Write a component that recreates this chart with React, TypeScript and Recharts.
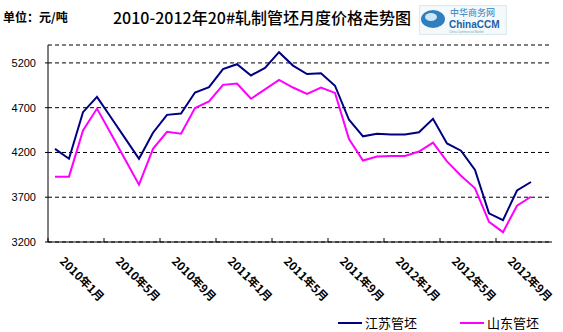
import { CartesianGrid, Line, LineChart, XAxis, YAxis } from "recharts"

const months = [
  "2010年1月", "2010年2月", "2010年3月", "2010年4月", "2010年5月", "2010年6月",
  "2010年7月", "2010年8月", "2010年9月", "2010年10月", "2010年11月", "2010年12月",
  "2011年1月", "2011年2月", "2011年3月", "2011年4月", "2011年5月", "2011年6月",
  "2011年7月", "2011年8月", "2011年9月", "2011年10月", "2011年11月", "2011年12月",
  "2012年1月", "2012年2月", "2012年3月", "2012年4月", "2012年5月", "2012年6月",
  "2012年7月", "2012年8月", "2012年9月", "2012年10月", "2012年11月", "2012年12月",
]

// 江苏管坯
const jiangsu = [
  4240, 4130, 4650, 4820, 4590, 4360, 4130, 4420, 4620, 4635, 4870, 4930,
  5130, 5185, 5060, 5145, 5320, 5170, 5075, 5085, 4945, 4565, 4380, 4410,
  4400, 4400, 4425, 4575, 4300, 4220, 4005, 3520, 3445, 3775, 3870,
]

// 山东管坯
const shandong = [
  3930, 3930, 4445, 4690, 4410, 4125, 3840, 4240, 4430, 4410, 4695, 4770,
  4955, 4970, 4800, 4905, 5010, 4925, 4855, 4925, 4865, 4350, 4110, 4155,
  4160, 4160, 4210, 4310, 4100, 3940, 3800, 3425, 3310, 3605, 3705,
]

const yTicks = [3200, 3700, 4200, 4700, 5200]

const data = months.map((m, i) => ({
  month: m,
  js: jiangsu[i] ?? null,
  sd: shandong[i] ?? null,
}))

const cjk = "'Noto Sans CJK SC', sans-serif"

function XTick(props: any) {
  const { x, y, payload } = props
  const ax = x + 4
  const ay = y + 20
  return (
    <g>
      <line x1={x - 7} x2={x - 7} y1={y - 4} y2={y} stroke="#000" />
      <text
        x={ax}
        y={ay}
        transform={`rotate(45, ${ax}, ${ay})`}
        textAnchor="start"
        fontSize={11.5}
        fontWeight="bold"
        fontFamily={cjk}
        fill="#000"
      >
        {payload.value}
      </text>
    </g>
  )
}

function Logo() {
  return (
    <svg width={88} height={30} style={{ position: "absolute", left: 419, top: 5 }}>
      <rect x={0.5} y={0.5} width={87} height={29} fill="#f4f9fc" stroke="#dde8ee" />
      <ellipse cx={14} cy={14} rx={12} ry={9} fill="#2f7fc0" />
      <ellipse cx={12} cy={12} rx={6} ry={4} fill="#cfe6f5" />
      <text x={31} y={11} fontSize={9} fill="#2f7fc0" fontFamily={cjk}>中华商务网</text>
      <text x={30} y={23} fontSize={10} fontWeight="bold" fill="#1f5fa6" fontFamily="Arial, sans-serif">ChinaCCM</text>
      <text x={30} y={28} fontSize={3} fill="#7aa" fontFamily="Arial">China Commercial Market</text>
    </svg>
  )
}

export default function App() {
  return (
    <div style={{ position: "absolute", left: 0, top: 0, width: 563, height: 332, background: "#fff" }}>
      <div style={{ position: "absolute", left: 3, top: 8, fontSize: 12, fontWeight: "bold", fontFamily: cjk }}>
        单位：元/吨
      </div>
      <div style={{ position: "absolute", left: 113, top: 5, fontSize: 16, fontFamily: cjk, fontWeight: 500, whiteSpace: "nowrap" }}>
        2010-2012年20#轧制管坯月度价格走势图
      </div>
      <Logo />
      <LineChart width={563} height={332} data={data} margin={{ top: 45, right: 11, left: 0, bottom: 0 }}>
        <CartesianGrid vertical={false} stroke="#000" strokeDasharray="4 3" />
        <XAxis
          dataKey="month"
          scale="band"
          interval={3}
          height={90}
          tickLine={false}
          tickSize={0}
          tickMargin={0}
          axisLine={{ stroke: "#000" }}
          tick={<XTick />}
        />
        <XAxis xAxisId="top" dataKey="month" orientation="top" height={0} tick={false} tickLine={false} axisLine={{ stroke: "#000" }} />
        <YAxis
          domain={[3200, 5400]}
          ticks={yTicks}
          width={48}
          tickSize={3}
          tickMargin={9}
          axisLine={{ stroke: "#000" }}
          tickLine={{ stroke: "#000" }}
          tick={{ fontSize: 11, fill: "#000", fontFamily: "Arial, 'Liberation Sans', sans-serif" }}
          allowDataOverflow
        />
        <YAxis yAxisId="r" orientation="right" width={0} tick={false} tickLine={false} axisLine={{ stroke: "#000" }} />
        <Line dataKey="js" stroke="#000080" strokeWidth={2} dot={false} isAnimationActive={false} />
        <Line dataKey="sd" stroke="#ff00ff" strokeWidth={2} dot={false} isAnimationActive={false} />
      </LineChart>
      <div style={{ position: "absolute", left: 338, top: 313, display: "flex", alignItems: "center", fontFamily: cjk, fontSize: 13 }}>
        <span style={{ display: "inline-block", width: 24, height: 2, background: "#000080", marginRight: 3 }} />
        <span>江苏管坯</span>
      </div>
      <div style={{ position: "absolute", left: 460, top: 313, display: "flex", alignItems: "center", fontFamily: cjk, fontSize: 13 }}>
        <span style={{ display: "inline-block", width: 24, height: 2, background: "#ff00ff", marginRight: 3 }} />
        <span>山东管坯</span>
      </div>
    </div>
  )
}
